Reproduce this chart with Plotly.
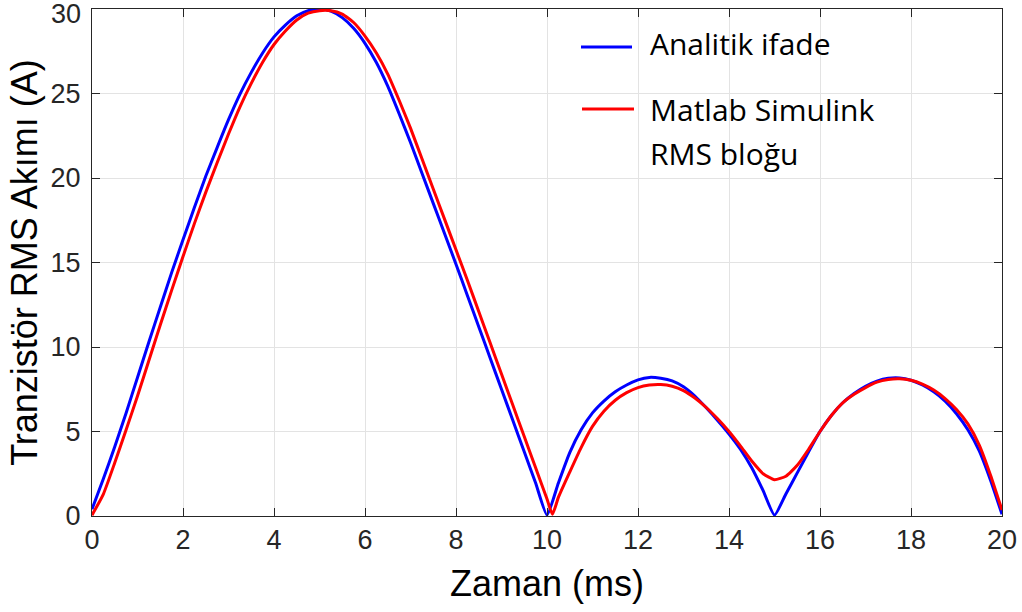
import plotly.graph_objects as go

# time axis (ms)
t_blue = [0.0, 0.25, 0.5, 0.75, 1.0, 1.25, 1.5, 1.75, 2.0, 2.25, 2.5, 2.75, 3.0, 3.25, 3.5, 3.75,
          4.0, 4.25, 4.5, 4.75, 5.0, 5.25, 5.5, 5.75, 6.0, 6.25, 6.5, 6.75, 7.0, 7.25, 7.5, 7.75,
          8.0, 8.25, 8.5, 8.75, 9.0, 9.25, 9.5, 9.75, 10.0, 10.25, 10.5, 10.75, 11.0, 11.25, 11.5,
          11.75, 12.0, 12.25, 12.5, 12.75, 13.0, 13.25, 13.5, 13.75, 14.0, 14.25, 14.5, 14.75, 15.0,
          15.25, 15.5, 15.75, 16.0, 16.25, 16.5, 16.75, 17.0, 17.25, 17.5, 17.75, 18.0, 18.25, 18.5,
          18.75, 19.0, 19.25, 19.5, 19.75, 20.0]

# Analitik ifade (A)
i_blue = [0.4, 2.2, 4.1, 6.1, 8.2, 10.3, 12.35, 14.4, 16.35, 18.25, 20.1, 21.8, 23.45, 24.95, 26.25, 27.4,
          28.35, 29.05, 29.6, 29.9, 30.0, 29.87, 29.49, 28.86, 27.97, 26.83, 25.43, 23.8, 22.1, 20.3, 18.5, 16.7,
          14.9, 13.05, 11.2, 9.35, 7.5, 5.65, 3.8, 1.95, 0.05, 1.95, 3.75, 5.1, 6.1, 6.8, 7.35,
          7.75, 8.05, 8.2, 8.15, 8.0, 7.65, 7.1, 6.4, 5.65, 4.85, 3.95, 2.85, 1.5, 0.05,
          1.3, 2.55, 3.8, 5.0, 5.95, 6.7, 7.25, 7.68, 7.98, 8.15, 8.17, 8.03, 7.75, 7.35,
          6.8, 6.05, 5.1, 3.85, 2.1, 0.1]

t_red = [0.0, 0.25, 0.5, 0.75, 1.0, 1.25, 1.5, 1.75, 2.0, 2.25, 2.5, 2.75, 3.0, 3.25, 3.5, 3.75,
         4.0, 4.25, 4.5, 4.75, 5.0, 5.25, 5.5, 5.75, 6.0, 6.25, 6.5, 6.75, 7.0, 7.25, 7.5, 7.75,
         8.0, 8.25, 8.5, 8.75, 9.0, 9.25, 9.5, 9.75, 10.0, 10.12, 10.25, 10.5, 10.75, 11.0, 11.25, 11.5,
         11.75, 12.0, 12.25, 12.5, 12.75, 13.0, 13.25, 13.5, 13.75, 14.0, 14.25, 14.5, 14.75, 15.0,
         15.25, 15.5, 15.75, 16.0, 16.25, 16.5, 16.75, 17.0, 17.25, 17.5, 17.75, 18.0, 18.25, 18.5,
         18.75, 19.0, 19.25, 19.5, 19.75, 20.0]

# Matlab Simulink RMS bloğu (A)
i_red = [0.05, 1.3, 3.15, 5.1, 7.1, 9.2, 11.3, 13.35, 15.35, 17.3, 19.15, 20.9, 22.6, 24.2, 25.6, 26.85,
         27.9, 28.7, 29.35, 29.75, 29.9, 29.9, 29.7, 29.2, 28.4, 27.4, 26.15, 24.6, 22.95, 21.15, 19.35, 17.55,
         15.75, 13.95, 12.1, 10.25, 8.4, 6.55, 4.7, 2.85, 1.0, 0.1, 1.1, 2.6, 4.05, 5.3, 6.2, 6.85,
         7.3, 7.6, 7.75, 7.78, 7.68, 7.42, 6.98, 6.42, 5.75, 5.0, 4.15, 3.25, 2.5, 2.15,
         2.35, 3.0, 3.95, 5.0, 5.95, 6.7, 7.2, 7.6, 7.92, 8.08, 8.12, 8.03, 7.8, 7.45,
         6.95, 6.3, 5.45, 4.2, 2.4, 0.35]

x_ticks = [0, 2, 4, 6, 8, 10, 12, 14, 16, 18, 20]
y_ticks = [0, 5, 10, 15, 20, 25, 30]
y_ticktext = ["0", "5", "10", "15", "20", "25", ""]   # top label "30" drawn below as text
y_top_label = "30"

legend_names = ["Analitik ifade", "Matlab Simulink", "RMS bloğu"]
colors = ["#0000ff", "#ff0000"]

ARIAL = "Liberation Sans, Arial, sans-serif"

fig = go.Figure()
fig.add_trace(go.Scatter(x=t_blue, y=i_blue, mode="lines", name=legend_names[0],
                         line=dict(color=colors[0], width=3, shape="spline", smoothing=0.5),
                         showlegend=False))
fig.add_trace(go.Scatter(x=t_red, y=i_red, mode="lines", name=legend_names[1] + " " + legend_names[2],
                         line=dict(color=colors[1], width=3, shape="spline", smoothing=0.5),
                         showlegend=False))

tick_font = dict(family=ARIAL, size=27, color="#262626")
axis_common = dict(
    showgrid=True, gridcolor="#e3e3e3", gridwidth=1,
    showline=True, linecolor="#262626", linewidth=1, mirror="ticks",
    ticks="inside", ticklen=8, tickcolor="#262626", tickwidth=1,
    tickfont=tick_font,
    ticklabeloverflow="allow",
    zeroline=False, automargin=False,
)

# plot area in pixels: x 92..1002, y 9..516
PL, PR, PT, PB = 92, 1002, 9, 516
def px(x):
    return (x - PL) / (PR - PL)
def py(y):
    return 1 - (y - PT) / (PB - PT)

legend_font = dict(family="Open Sans, sans-serif", size=30, color="#000000")
annotations = [
    dict(text=legend_names[0], x=px(648), y=py(43), xref="paper", yref="paper",
         xanchor="left", yanchor="middle", showarrow=False, font=legend_font),
    dict(text=legend_names[1], x=px(648), y=py(109), xref="paper", yref="paper",
         xanchor="left", yanchor="middle", showarrow=False, font=legend_font),
    dict(text=legend_names[2], x=px(648), y=py(153), xref="paper", yref="paper",
         xanchor="left", yanchor="middle", showarrow=False, font=legend_font),
    dict(text=y_top_label, x=px(83), y=py(14), xref="paper", yref="paper",
         xanchor="right", yanchor="middle", showarrow=False, font=tick_font),
]
shapes = [
    dict(type="line", xref="paper", yref="paper", x0=px(581), x1=px(632), y0=py(47), y1=py(47),
         line=dict(color=colors[0], width=3)),
    dict(type="line", xref="paper", yref="paper", x0=px(582), x1=px(634), y0=py(109), y1=py(109),
         line=dict(color=colors[1], width=3)),
]

fig.update_layout(
    width=1022, height=612,
    margin=dict(l=PL, r=1022 - PR, t=PT, b=612 - PB),
    plot_bgcolor="white", paper_bgcolor="white",
    xaxis=dict(range=[0, 20], tickvals=x_ticks,
               title=dict(text="Zaman (ms)", standoff=16,
                          font=dict(family=ARIAL, size=36, color="#000000")),
               **axis_common),
    yaxis=dict(range=[0, 30], tickvals=y_ticks, ticktext=y_ticktext, ticklabelstandoff=5,
               title=dict(text="Tranzistör RMS Akımı (A)", standoff=1,
                          font=dict(family=ARIAL, size=36, color="#000000")),
               **axis_common),
    annotations=annotations,
    shapes=shapes,
    showlegend=False,
)

fig.write_html("out.html",
               config={"displayModeBar": False, "staticPlot": True},
               post_script="document.body.style.margin='0';document.body.style.padding='0';"
                           "document.documentElement.style.overflow='hidden';")
